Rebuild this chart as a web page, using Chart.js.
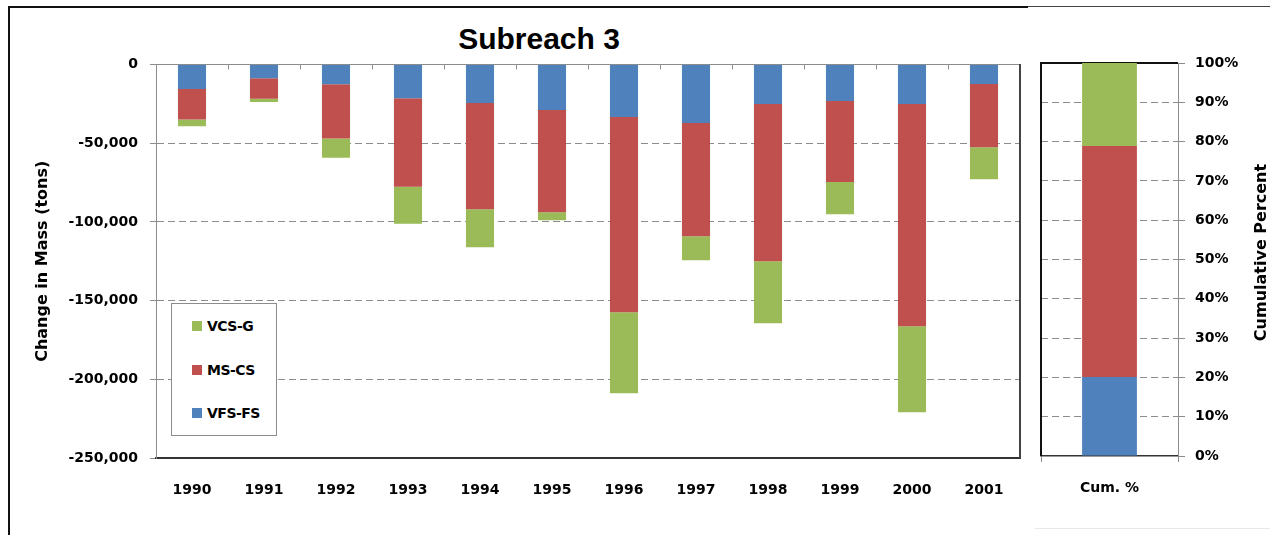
<!DOCTYPE html>
<html>
<head>
<meta charset="utf-8">
<title>Subreach 3</title>
<script src="https://cdn.jsdelivr.net/npm/chart.js@4/dist/chart.umd.min.js"></script>
<style>
  html, body { margin: 0; padding: 0; background: #fff; overflow: hidden; }
  body { width: 1270px; height: 535px; position: relative; font-family: "DejaVu Sans", sans-serif; }
  .rule { position: absolute; }
  #edgeLeft { left: 8px; top: 6px; width: 2px; height: 529px; background: #111; }
  #edgeTop { left: 8px; top: 6px; width: 1020px; height: 2px; background: #111; }
  #edgeTopThin { left: 1028px; top: 6px; width: 242px; height: 1px; background: #444; }
  #edgeFoot { left: 1035px; top: 528px; width: 235px; height: 1px; background: #e8e8e8; }
  #title { position: absolute; left: 389px; width: 300px; top: 22px; line-height: 34px;
           text-align: center; font: bold 30px "Liberation Sans", sans-serif; color: #000; }
  #mainWrap { position: absolute; left: 10px; top: 8px; width: 1020px; height: 520px; }
  #cumWrap { position: absolute; left: 1030px; top: 8px; width: 260px; height: 520px; }
  #legend { position: absolute; left: 171px; top: 303px; width: 104px; height: 131px;
            border: 1px solid #8c8c8c; background: #fff; }
  #legend .item { height: 43.7px; display: flex; align-items: center; padding-left: 20px;
                  font: bold 14px "DejaVu Sans", sans-serif; color: #000; letter-spacing: -0.5px; }
  #legend .swatch { width: 10px; height: 10px; margin-right: 5px; }
</style>
</head>
<body>
<div class="rule" id="edgeLeft"></div>
<div class="rule" id="edgeTop"></div>
<div class="rule" id="edgeTopThin"></div>
<div class="rule" id="edgeFoot"></div>
<div id="title">Subreach 3</div>
<div id="mainWrap"><canvas id="mainChart"></canvas></div>
<div id="cumWrap"><canvas id="cumChart"></canvas></div>
<div id="legend"></div>

<script>
// yearly change in mass per size class (tons)
const years = ['1990', '1991', '1992', '1993', '1994', '1995', '1996', '1997', '1998', '1999', '2000', '2001'];
const vfsFs = [-15600, -8800, -12600, -21500, -24500, -28900, -33400, -37200, -25100, -23200, -25100, -12400];
const msCs  = [-19300, -13000, -34400, -56200, -67400, -64900, -124000, -71900, -99900, -51500, -141200, -40100];
const vcsG  = [-4300, -2100, -12300, -23500, -24200, -5100, -51500, -15300, -39400, -20400, -54700, -20400];

// share of the total for each class, stacked to 100 %
const cumLabels = ['Cum. %'];
const cumVfsFs = [20.1];
const cumMsCs = [58.8];
const cumVcsG = [21.1];

const BLUE = '#4F81BD';
const RED = '#C0504D';
const GREEN = '#9BBB59';
const GRID = '#8c8c8c';

Chart.defaults.font.family = '"DejaVu Sans", sans-serif';
Chart.defaults.color = '#000';

const tickFont = { size: 14, weight: 'bold' };

// draws the plot frame lines that the axes don't cover
const plotEdges = {
  id: 'plotEdges',
  beforeDatasetsDraw(chart, args, opts) {
    const { ctx, chartArea: a, scales: { x } } = chart;
    ctx.save();
    if (opts.top) {
      ctx.strokeStyle = opts.top.color;
      ctx.lineWidth = opts.top.width;
      ctx.beginPath();
      ctx.moveTo(a.left, a.top);
      ctx.lineTo(a.right, a.top);
      if (opts.hangTicks) {
        for (let i = 1; i < x.ticks.length; i++) {
          const px = Math.round((x.getPixelForValue(i - 1) + x.getPixelForValue(i)) / 2) + 0.5;
          ctx.moveTo(px, a.top);
          ctx.lineTo(px, a.top + opts.hangTicks);
        }
      }
      ctx.stroke();
    }
    ['left', 'right'].forEach(side => {
      const e = opts[side];
      if (!e) return;
      ctx.strokeStyle = e.color;
      ctx.lineWidth = e.width;
      ctx.beginPath();
      ctx.moveTo(a[side], a.top - (opts.top ? opts.top.width / 2 : 0));
      ctx.lineTo(a[side], a.bottom);
      ctx.stroke();
    });
    ctx.restore();
  }
};

// axis title on the right side, reading bottom to top
const sideTitle = {
  id: 'sideTitle',
  afterDraw(chart, args, opts) {
    if (!opts.text) return;
    const { ctx, chartArea: a } = chart;
    ctx.save();
    ctx.translate(opts.x, (a.top + a.bottom) / 2 + (opts.shift || 0));
    ctx.rotate(-Math.PI / 2);
    ctx.font = opts.font;
    ctx.fillStyle = '#000';
    ctx.textAlign = 'center';
    ctx.textBaseline = 'middle';
    ctx.fillText(opts.text, 0, 0);
    ctx.restore();
  }
};

const mainChart = new Chart(document.getElementById('mainChart'), {
  type: 'bar',
  data: {
    labels: years,
    datasets: [
      { label: 'VFS-FS', data: vfsFs, backgroundColor: BLUE },
      { label: 'MS-CS', data: msCs, backgroundColor: RED },
      { label: 'VCS-G', data: vcsG, backgroundColor: GREEN }
    ]
  },
  plugins: [plotEdges],
  options: {
    animation: false,
    responsive: true,
    maintainAspectRatio: false,
    layout: { padding: { top: 56.5, right: 10, left: 0, bottom: 0 } },
    datasets: { bar: { categoryPercentage: 1, barPercentage: 0.39 } },
    plugins: {
      legend: { display: false },
      tooltip: { enabled: false },
      plotEdges: {
        top: { color: GRID, width: 1 },
        right: { color: '#444', width: 2 },
        hangTicks: 5
      }
    },
    scales: {
      x: {
        stacked: true,
        grid: { display: false },
        border: { display: true, color: '#333', width: 2 },
        ticks: { padding: 16, font: tickFont },
        afterFit: s => { s.height = 70; }
      },
      y: {
        stacked: true,
        min: -250000,
        max: 0,
        ticks: {
          stepSize: 50000,
          padding: 12,
          font: tickFont,
          callback: v => v.toLocaleString('en-US')
        },
        grid: {
          color: c => (c.tick && c.tick.value === 0 ? 'rgba(0,0,0,0)' : GRID),
          tickColor: GRID,
          tickLength: 6
        },
        border: { display: true, color: GRID, width: 1, dash: [7, 4] },
        title: {
          display: true,
          text: 'Change in Mass (tons)',
          font: { size: 16, weight: 'bold' },
          padding: { top: 23, bottom: 0 }
        },
        afterFit: s => { s.width = 146; }
      }
    }
  }
});

new Chart(document.getElementById('cumChart'), {
  type: 'bar',
  data: {
    labels: cumLabels,
    datasets: [
      { label: 'VFS-FS', data: cumVfsFs, backgroundColor: BLUE },
      { label: 'MS-CS', data: cumMsCs, backgroundColor: RED },
      { label: 'VCS-G', data: cumVcsG, backgroundColor: GREEN }
    ]
  },
  plugins: [plotEdges, sideTitle],
  options: {
    animation: false,
    responsive: true,
    maintainAspectRatio: false,
    layout: { padding: { top: 55, right: 0, left: 11, bottom: 0 } },
    datasets: { bar: { categoryPercentage: 1, barPercentage: 0.4 } },
    plugins: {
      legend: { display: false },
      tooltip: { enabled: false },
      plotEdges: {
        top: { color: '#111', width: 2 },
        left: { color: '#111', width: 2 }
      },
      sideTitle: {
        text: 'Cumulative Percent',
        font: 'bold 16px "DejaVu Sans", sans-serif',
        x: 232,
        shift: -7
      }
    },
    scales: {
      x: {
        stacked: true,
        grid: { display: true, offset: true, drawOnChartArea: false, tickLength: 6, color: GRID },
        border: { display: true, color: '#333', width: 1.5 },
        ticks: { padding: 18, font: tickFont },
        afterFit: s => { s.height = 72; }
      },
      y: {
        position: 'right',
        stacked: true,
        min: 0,
        max: 100,
        ticks: {
          stepSize: 10,
          padding: 10,
          font: tickFont,
          callback: v => v + '%'
        },
        grid: {
          color: c => (c.tick && (c.tick.value === 0 || c.tick.value === 100) ? 'rgba(0,0,0,0)' : GRID),
          tickColor: GRID,
          tickLength: 7
        },
        border: { display: true, color: GRID, width: 1, dash: [7, 4] },
        afterFit: s => { s.width = 112; }
      }
    }
  }
});

// legend box inside the plot, top entry is the last stacked class
const legendBox = document.getElementById('legend');
mainChart.data.datasets.slice().reverse().forEach(ds => {
  const item = document.createElement('div');
  item.className = 'item';
  const sw = document.createElement('span');
  sw.className = 'swatch';
  sw.style.background = ds.backgroundColor;
  item.appendChild(sw);
  item.appendChild(document.createTextNode(ds.label));
  legendBox.appendChild(item);
});
</script>
</body>
</html>
